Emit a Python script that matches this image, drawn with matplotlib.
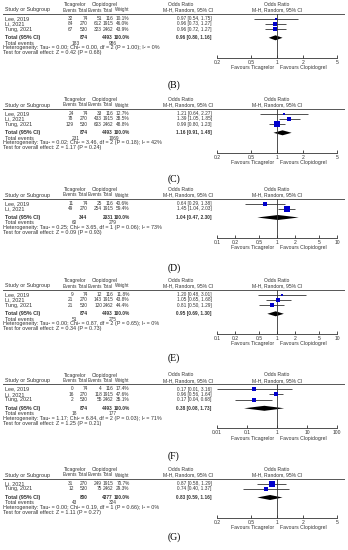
import numpy as np
import matplotlib.pyplot as plt
from matplotlib.ticker import FixedLocator, NullLocator

plt.rcParams['font.family'] = ['Liberation Sans', 'DejaVu Sans']

# panel 1 (label below: B)
p1_study = ["Lee, 2019", "Li, 2021", "Tung, 2021"]
p1_tica_ev = [32, 84, 67]
p1_tica_n = [74, 270, 530]
p1_clop_ev = [51, 612, 323]
p1_clop_n = [116, 1915, 2462]
p1_weight = [10.1, 46.0, 43.9]
p1_or = [0.97, 0.96, 0.96]
p1_lo = [0.54, 0.73, 0.72]
p1_hi = [1.75, 1.27, 1.27]
p1_total = [874, 4493, 0.96, 0.80, 1.16]
p1_events = [183, 986]
p1_het = "Heterogeneity: Tau² = 0.00; Chi² = 0.00, df = 2 (P = 1.00); I² = 0%"
p1_test = "Test for overall effect: Z = 0.42 (P = 0.68)"
p1_ticks = [0.2, 0.5, 1, 2, 5]

# panel 2 (C)
p2_study = ["Lee, 2019", "Li, 2021", "Tung, 2021"]
p2_tica_ev = [24, 78, 129]
p2_tica_n = [74, 270, 530]
p2_clop_ev = [33, 433, 603]
p2_clop_n = [116, 1915, 2462]
p2_weight = [12.7, 38.5, 48.8]
p2_or = [1.21, 1.39, 0.99]
p2_lo = [0.64, 1.05, 0.80]
p2_hi = [2.27, 1.85, 1.23]
p2_total = [874, 4493, 1.16, 0.91, 1.48]
p2_events = [231, 1069]
p2_het = "Heterogeneity: Tau² = 0.02; Chi² = 3.46, df = 2 (P = 0.18); I² = 42%"
p2_test = "Test for overall effect: Z = 1.17 (P = 0.24)"
p2_ticks = [0.2, 0.5, 1, 2, 5]

# panel 3 (D)
p3_study = ["Lee, 2019", "Li, 2021"]
p3_tica_ev = [11, 49]
p3_tica_n = [74, 270]
p3_clop_ev = [25, 254]
p3_clop_n = [116, 1915]
p3_weight = [40.6, 59.4]
p3_or = [0.64, 1.45]
p3_lo = [0.29, 1.04]
p3_hi = [1.38, 2.03]
p3_total = [344, 2031, 1.04, 0.47, 2.30]
p3_events = [60, 279]
p3_het = "Heterogeneity: Tau² = 0.25; Chi² = 3.65, df = 1 (P = 0.06); I² = 73%"
p3_test = "Test for overall effect: Z = 0.09 (P = 0.93)"
p3_ticks = [0.1, 0.2, 0.5, 1, 2, 5, 10]

# panel 4 (E)
p4_study = ["Lee, 2019", "Li, 2021", "Tung, 2021"]
p4_tica_ev = [9, 21, 21]
p4_tica_n = [74, 270, 530]
p4_clop_ev = [12, 143, 120]
p4_clop_n = [116, 1915, 2462]
p4_weight = [11.8, 43.8, 44.4]
p4_or = [1.20, 1.05, 0.81]
p4_lo = [0.48, 0.65, 0.50]
p4_hi = [3.01, 1.68, 1.29]
p4_total = [874, 4493, 0.95, 0.69, 1.30]
p4_events = [51, 275]
p4_het = "Heterogeneity: Tau² = 0.00; Chi² = 0.87, df = 2 (P = 0.65); I² = 0%"
p4_test = "Test for overall effect: Z = 0.34 (P = 0.73)"
p4_ticks = [0.1, 0.2, 0.5, 1, 2, 5, 10]

# panel 5 (F)
p5_study = ["Lee, 2019", "Li, 2021", "Tung, 2021"]
p5_tica_ev = [0, 16, 2]
p5_tica_n = [74, 270, 530]
p5_clop_ev = [4, 118, 55]
p5_clop_n = [116, 1915, 2462]
p5_weight = [17.4, 47.6, 35.1]
p5_or = [0.17, 0.96, 0.17]
p5_lo = [0.01, 0.56, 0.04]
p5_hi = [3.16, 1.64, 0.68]
p5_total = [874, 4493, 0.38, 0.08, 1.73]
p5_events = [18, 177]
p5_het = "Heterogeneity: Tau² = 1.17; Chi² = 6.84, df = 2 (P = 0.03); I² = 71%"
p5_test = "Test for overall effect: Z = 1.25 (P = 0.21)"
p5_ticks = [0.01, 0.1, 1, 10, 100]

# panel 6 (G)
p6_study = ["Li, 2021", "Tung, 2021"]
p6_tica_ev = [31, 12]
p6_tica_n = [270, 530]
p6_clop_ev = [249, 75]
p6_clop_n = [1915, 2462]
p6_weight = [70.7, 29.3]
p6_or = [0.87, 0.74]
p6_lo = [0.58, 0.40]
p6_hi = [1.29, 1.37]
p6_total = [800, 4377, 0.83, 0.59, 1.16]
p6_events = [43, 324]
p6_het = "Heterogeneity: Tau² = 0.00; Chi² = 0.19, df = 1 (P = 0.66); I² = 0%"
p6_test = "Test for overall effect: Z = 1.11 (P = 0.27)"
p6_ticks = [0.2, 0.5, 1, 2, 5]

labels = ["(B)", "(C)", "(D)", "(E)", "(F)", "(G)"]

panels = [
    (p1_study, p1_tica_ev, p1_tica_n, p1_clop_ev, p1_clop_n, p1_weight, p1_or, p1_lo, p1_hi,
     p1_total, p1_events, p1_het, p1_test, p1_ticks),
    (p2_study, p2_tica_ev, p2_tica_n, p2_clop_ev, p2_clop_n, p2_weight, p2_or, p2_lo, p2_hi,
     p2_total, p2_events, p2_het, p2_test, p2_ticks),
    (p3_study, p3_tica_ev, p3_tica_n, p3_clop_ev, p3_clop_n, p3_weight, p3_or, p3_lo, p3_hi,
     p3_total, p3_events, p3_het, p3_test, p3_ticks),
    (p4_study, p4_tica_ev, p4_tica_n, p4_clop_ev, p4_clop_n, p4_weight, p4_or, p4_lo, p4_hi,
     p4_total, p4_events, p4_het, p4_test, p4_ticks),
    (p5_study, p5_tica_ev, p5_tica_n, p5_clop_ev, p5_clop_n, p5_weight, p5_or, p5_lo, p5_hi,
     p5_total, p5_events, p5_het, p5_test, p5_ticks),
    (p6_study, p6_tica_ev, p6_tica_n, p6_clop_ev, p6_clop_n, p6_weight, p6_or, p6_lo, p6_hi,
     p6_total, p6_events, p6_het, p6_test, p6_ticks),
]

# layout (pixels)
W, H = 348, 550
header_lines = [13.5, 108.5, 198.5, 289.5, 384, 478.5]
label_y = [85, 179, 268, 358, 456, 537]
fs_txt = 3.9    # words
fs_num = 3.4    # number columns
fs_col = 3.3    # Events / Total / Weight headers
fs_grp = 3.6    # Ticagrelor / Clopidogrel, axis
tc = '#333333'

fig = plt.figure(figsize=(W / 100, H / 100), dpi=100)
bg = fig.add_axes([0, 0, 1, 1])
bg.set_xlim(0, W)
bg.set_ylim(H, 0)
bg.axis('off')


def txt(x, y, s, ha='left', bold=False, size=fs_txt):
    bg.text(x, y, s, ha=ha, va='center', fontsize=size, color=tc,
            weight='bold' if bold else 'normal')


for k, p in enumerate(panels):
    study, tev, tn, cev, cn, wt, orv, lo, hi, tot, evs, het, test, ticks = p
    line = header_lines[k]
    h1, h2 = line - 9, line - 3.5
    rows = [line + 5 + 5.3 * i for i in range(len(study))]
    ytot = rows[-1] + 8.7
    yev, yhet, ytest = ytot + 5.4, ytot + 10, ytot + 15
    yax = ytest + 5

    # headers
    txt(75, h1, "Ticagrelor", 'center', size=fs_grp)
    txt(105, h1, "Clopidogrel", 'center', size=fs_grp)
    txt(168, h1, "Odds Ratio", size=fs_grp)
    txt(277, h1, "Odds Ratio", 'center', size=fs_grp)
    txt(5, h2, "Study or Subgroup")
    for x, s in [(76.8, "Events"), (87.5, "Total"), (102, "Events"), (113, "Total"),
                 (129.5, "Weight")]:
        txt(x, h2, s, 'right', size=fs_col)
    txt(163, h2, "M-H, Random, 95% CI", size=fs_grp)
    txt(277, h2, "M-H, Random, 95% CI", 'center', size=fs_grp)
    bg.plot([3, 344], [line, line], color='#555555', lw=0.7)

    for i, y in enumerate(rows):
        txt(5, y, study[i])
        txt(73.5, y, str(tev[i]), 'right', size=fs_num)
        txt(87.5, y, str(tn[i]), 'right', size=fs_num)
        txt(102, y, str(cev[i]), 'right', size=fs_num)
        txt(113, y, str(cn[i]), 'right', size=fs_num)
        txt(129.5, y, "%.1f%%" % wt[i], 'right', size=fs_num)
        txt(177, y, "%.2f [%.2f, %.2f]" % (orv[i], lo[i], hi[i]), size=fs_num)

    txt(5, ytot, "Total (95% CI)", bold=True)
    txt(87.5, ytot, str(tot[0]), 'right', True, fs_num)
    txt(113, ytot, str(tot[1]), 'right', True, fs_num)
    txt(129.5, ytot, "100.0%", 'right', True, fs_num)
    txt(176, ytot, "%.2f [%.2f, %.2f]" % (tot[2], tot[3], tot[4]), bold=True, size=fs_num)
    txt(5, yev, "Total events")
    txt(71.5, yev, str(evs[0]), size=fs_num)
    txt(108.5, yev, str(evs[1]), size=fs_num)
    txt(3, yhet, het)
    txt(3, ytest, test)

    # forest plot
    fa = fig.add_axes([217 / W, 1 - yax / H, 120 / W, (yax - line) / H])
    fa.set_xscale('log')
    fa.set_xlim(ticks[0], ticks[-1])
    fa.set_ylim(yax, line)
    fa.axvline(1, color='#333333', lw=0.6)
    for i, y in enumerate(rows):
        fa.hlines(y, lo[i], hi[i], color='#333333', lw=0.6)
        fa.plot(orv[i], y, marker='s', ms=0.52 * np.sqrt(wt[i]), color='#0000CC',
                mec='#0000CC', mew=0)
    fa.fill([tot[3], tot[2], tot[4], tot[2]], [ytot, ytot - 2.5, ytot, ytot + 2.5],
            color='black', lw=0)
    for s in ['top', 'left', 'right']:
        fa.spines[s].set_visible(False)
    fa.spines['bottom'].set_color('#333333')
    fa.spines['bottom'].set_linewidth(0.6)
    fa.patch.set_alpha(0)
    fa.set_yticks([])
    fa.xaxis.set_major_locator(FixedLocator(ticks))
    fa.xaxis.set_minor_locator(NullLocator())
    fa.set_xticklabels(['%g' % t for t in ticks])
    fa.tick_params(axis='x', direction='in', length=2.5, width=0.6, labelsize=fs_grp, pad=1.5,
                   colors=tc)

    txt(274, yax + 10, "Favours Ticagrelor", 'right', size=3.7)
    txt(280.5, yax + 10, "Favours Clopidogrel", size=3.7)

    bg.text(174, label_y[k], labels[k], ha='center', va='center', fontsize=7,
            family='Liberation Serif', color='black')

fig.savefig('out.png', dpi=100)
